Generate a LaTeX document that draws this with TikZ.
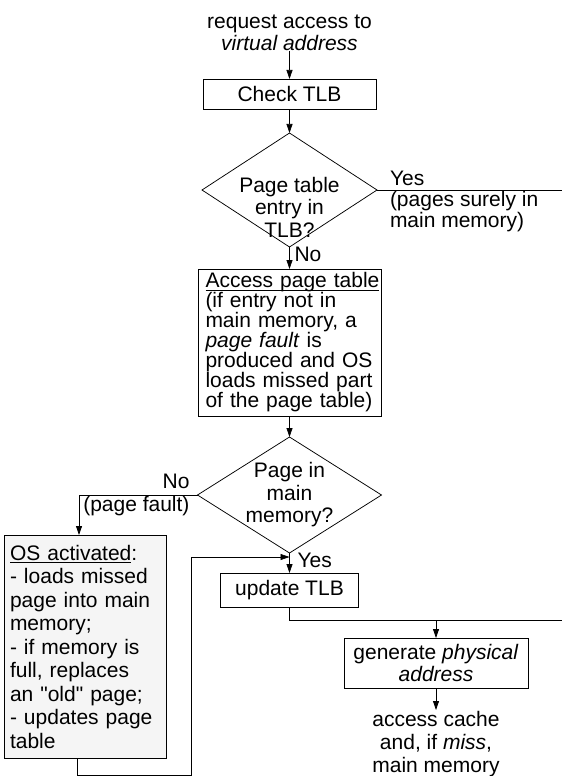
\documentclass[tikz,border=0pt]{standalone}
\usepackage{fontspec}
\setmainfont{Liberation Sans}
\usetikzlibrary{positioning,shapes.geometric,arrows.meta}

\newsavebox{\ulbox}
\newcommand{\ulbl}[1]{\sbox{\ulbox}{#1}\rlap{\rule[-2.5pt]{\wd\ulbox}{0.7pt}}\usebox{\ulbox}}

\tikzset{
  every node/.style={font=\fontsize{21}{22.5}\selectfont, inner sep=0pt, outer sep=0pt},
  box/.style={draw, line width=0.75pt, align=center},
  dia/.style={draw, diamond, line width=0.75pt},
  conn/.style={line width=0.75pt},
  arr/.style={conn, -{Triangle[length=9pt,width=6pt]}},
}

\begin{document}
\begin{tikzpicture}
\useasboundingbox (0,0) rectangle (562pt,-776pt);
		\node[box, minimum width=173pt, minimum height=30pt] (check) at (289.5pt,-94pt) {Check TLB};
		\node[align=center, above=28pt of check] (req) {request access to\\\textit{virtual address}};
		\node[dia, minimum width=175pt, minimum height=114pt, below=24pt of check] (tlbq) {};
		\node[align=center, yshift=-17pt] (tlbqtxt) at (tlbq) {Page table\\entry in\\TLB?};
		\node[box, align=left, text width=168pt, inner xsep=7.5pt, minimum height=147pt, font=\fontsize{21}{20}\selectfont, below=22pt of tlbq] (access) {\ulbl{Access page table}\\(if entry not in\\main memory, a\\\textit{page fault} is\\produced and OS\\loads missed part\\of the page table)};
		\node[dia, minimum width=184pt, minimum height=116pt, below=21pt of access] (memq) {};
		\node[align=center] (memqtxt) at (memq) {Page in\\main\\memory?};
		\node[box, minimum width=138pt, minimum height=34pt, below=20pt of memq] (upd) {update TLB};
		\node[box, minimum width=184pt, minimum height=50pt, below=31pt of upd, xshift=146.5pt] (gen) {generate \textit{physical}\\\textit{address}};
		\node[align=center, font=\fontsize{21}{23}\selectfont, below=22pt of gen] (cache) {\strut access cache\\and, if \textit{miss},\\main memory};
		\node[box, align=left, fill=black!4, text width=150pt, inner xsep=6pt, minimum height=223pt, font=\fontsize{21}{23.5}\selectfont, anchor=north west] (os) at (4pt,-535pt) {\ulbl{OS activated}:\\- loads missed\\page into main\\memory;\\- if memory is\\full, replaces\\an \textquotedbl old\textquotedbl\ page;\\- updates page\\table};

		\node[anchor=north west, xshift=5pt] (no1) at (tlbq.south) {No};
		\node[align=left, font=\fontsize{21}{21}\selectfont, right=13pt of tlbq, yshift=-11pt] (yes1) {Yes\\(pages surely in\\main memory)};
		\node[align=right, left=8pt of memq] (no2) {No\\(page fault)};
		\node[anchor=north west, xshift=8pt] (yes2) at (memq.south) {Yes};

		\coordinate (rim) at (562pt,0);
		\coordinate[below=4pt of memq] (join);
		\coordinate[below=13pt of upd] (bend);
		\coordinate (back) at (191pt,-775pt);

		\draw[arr] (req) -- (check);
		\draw[arr] (check) -- (tlbq);
		\draw[arr] (tlbq) -- (access);
		\draw[arr] (access) -- (memq);
		\draw[arr] (memq) -- (upd);
		\draw[conn] (tlbq.east) -- (tlbq.east -| rim);
		\draw[arr] (memq.west) -| ([xshift=-6pt]os.north);
		\draw[arr] ([xshift=-8pt]os.south) |- (back) |- (join);
		\draw[conn] (upd.south) -- (bend) -- (bend -| rim);
		\draw[arr] (bend -| gen.north) -- (gen.north);
		\draw[arr] (gen) -- (cache);
\end{tikzpicture}
\end{document}
